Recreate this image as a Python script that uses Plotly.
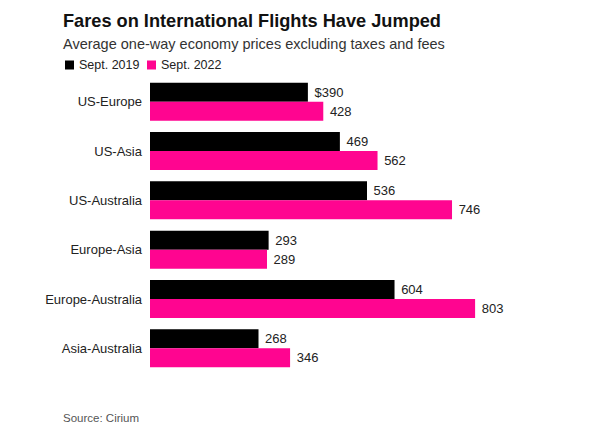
import plotly.graph_objects as go

categories = ["US-Europe", "US-Asia", "US-Australia", "Europe-Asia", "Europe-Australia", "Asia-Australia"]
sept_2019 = [390, 469, 536, 293, 604, 268]
sept_2022 = [428, 562, 746, 289, 803, 346]
labels_2019 = ["$390", "469", "536", "293", "604", "268"]
labels_2022 = ["428", "562", "746", "289", "803", "346"]
series_names = ["Sept. 2019", "Sept. 2022"]

BLACK = "#000000"
PINK = "#FF0590"
FONT = "Liberation Sans, Arial, sans-serif"

W, H = 600, 438
OFF = 8  # page body margin offset
# target plot area in window pixels: x 150..550, y 77..373
L, T = 150 - OFF, 77 - OFF
R, B = W - (550 - OFF), H - (373 - OFF)
PW, PH = W - L - R, H - T - B


def px(x):
    return (x - OFF - L) / PW


def py(y):
    return 1 - (y - OFF - T) / PH


fig = go.Figure()
for vals, labs, name, col in [(sept_2019, labels_2019, series_names[0], BLACK),
                              (sept_2022, labels_2022, series_names[1], PINK)]:
    fig.add_trace(go.Bar(
        y=categories, x=vals, orientation="h", name=name,
        marker=dict(color=col, line=dict(width=0)),
        text=labs, texttemplate="\u00a0%{text}", textposition="outside", cliponaxis=False,
        textfont=dict(size=13, color="#222222", family=FONT),
        showlegend=False,
    ))

fig.update_layout(
    width=W, height=H,
    margin=dict(l=L, r=R, t=T, b=B, autoexpand=False),
    paper_bgcolor="white", plot_bgcolor="white",
    barmode="group", bargap=0.23, bargroupgap=0,
    font=dict(family=FONT, color="#222222"),
    showlegend=False,
    xaxis=dict(range=[0, 988], visible=False, showgrid=False, zeroline=False),
    yaxis=dict(autorange="reversed", showgrid=False, zeroline=False, showline=False,
               ticks="", ticklabelstandoff=7,
               tickfont=dict(size=13, color="#222222", family=FONT)),
)

# custom legend: squares + labels
legend_items = [(65, 77, series_names[0], BLACK), (147, 159, series_names[1], PINK)]
for sx, tx, name, col in legend_items:
    fig.add_shape(type="rect", xref="paper", yref="paper",
                  x0=px(sx), x1=px(sx + 9), y0=py(69.5), y1=py(60.5),
                  fillcolor=col, line=dict(width=0))
    fig.add_annotation(text=name, xref="paper", yref="paper", x=px(tx), y=py(65),
                       xanchor="left", yanchor="middle", showarrow=False,
                       font=dict(size=12.5, color="#222222", family=FONT))

fig.add_annotation(text="<b>Fares on International Flights Have Jumped</b>", xref="paper", yref="paper",
                   x=px(61), y=py(21), xanchor="left", yanchor="middle",
                   showarrow=False, font=dict(size=18.2, color="#111111", family=FONT))
fig.add_annotation(text="Average one-way economy prices excluding taxes and fees", xref="paper", yref="paper",
                   x=px(61), y=py(44), xanchor="left", yanchor="middle",
                   showarrow=False, font=dict(size=14.5, color="#333333", family=FONT))
fig.add_annotation(text="Source: Cirium", xref="paper", yref="paper",
                   x=px(61), y=py(418), xanchor="left", yanchor="middle",
                   showarrow=False, font=dict(size=11.5, color="#555555", family=FONT))

fig.write_html("out.html")
